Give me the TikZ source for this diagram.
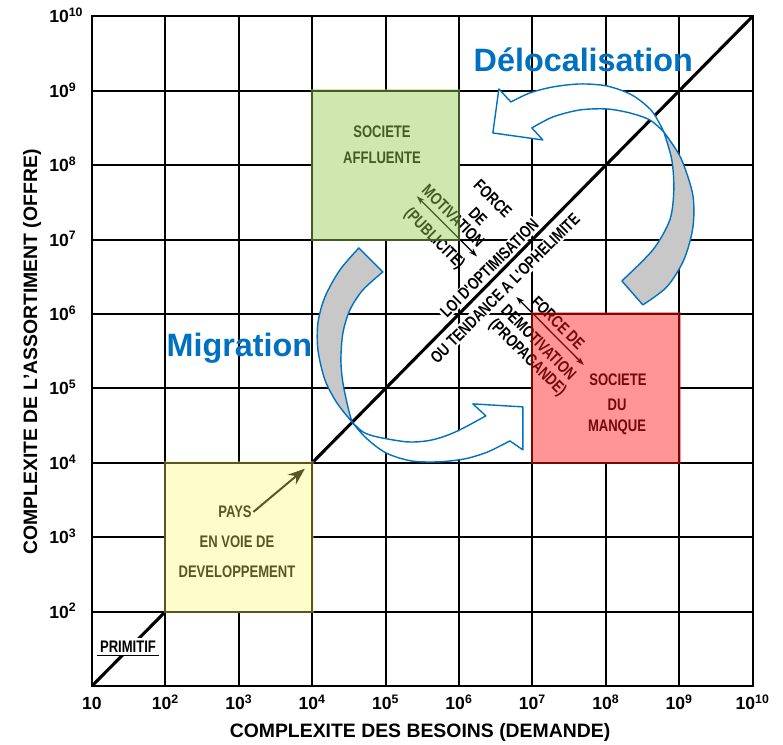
\documentclass[tikz,border=0pt]{standalone}
\usepackage{fontspec}
\setmainfont{Liberation Sans}
\newfontfamily\condfont[FakeStretch=0.78]{Liberation Sans}
\usepackage{xcolor}
\usetikzlibrary{arrows.meta}

\definecolor{pptblue}{RGB}{0,112,192}
\definecolor{arrowgray}{RGB}{200,200,200}
\definecolor{tintyellow}{RGB}{255,249,109}
\definecolor{tintgreen}{RGB}{148,206,82}
\definecolor{tintred}{RGB}{255,22,22}

\begin{document}
\begin{tikzpicture}[x=1.835cm, y=1.86cm,
  gridline/.style={line width=1.5pt, line cap=rect},
  boxtext/.style={font=\fontsize{11.9}{13}\condfont\bfseries, inner sep=1pt},
  forcetext/.style={boxtext, rotate=-45},
  diagtext/.style={boxtext, rotate=45, fill=white},
  forcearrow/.style={line width=0.9pt, {Stealth[length=6pt,width=4pt]}-{Stealth[length=6pt,width=4pt]}},
  bluearrow/.style={draw=pptblue, line width=1pt, line join=round},
  bluetext/.style={font=\fontsize{23}{27}\selectfont\bfseries, text=pptblue, inner sep=0pt},
  tick/.style={font=\fontsize{12.5}{14}\selectfont\bfseries, inner sep=0pt},
  axislabel/.style={font=\fontsize{13.8}{16}\selectfont\bfseries, inner sep=0pt}]
\useasboundingbox (-1.2534,-0.7930) rectangle (9.4142,9.2204);

% Grid (one decade per cell)
\foreach \k in {0,...,9} {
    \draw[gridline] (\k,0) -- (\k,9);
    \draw[gridline] (0,\k) -- (9,\k);
}

% Law along the diagonal
\node[diagtext] (loi) at (5.413,5.614) {LOI D'OPTIMISATION};
\node[diagtext] (ophel) at (5.627,5.345) {OU TENDANCE A L'OPHELIMITE};
\coordinate (origin) at (0,0);
\coordinate (far) at (9,9);
\draw[line width=2.2pt] (origin) -- (far);

% The three societies (white first, the grid inside goes away)
\foreach \x/\y in {1/1, 3/6, 6/3} {
    \fill[white] (\x,\y) rectangle ++(2,2);
    \draw[gridline] (\x,\y) rectangle ++(2,2);
}
\node[boxtext] (pays) at (1.948,2.339) {PAYS};
\node[boxtext] (envoie) at (1.975,1.935) {EN VOIE DE};
\node[boxtext] (devel) at (1.975,1.532) {DEVELOPPEMENT};
\coordinate (pvdcorner) at (2.90,2.92);
\draw[line width=1.4pt, -{Stealth[length=12pt,width=9pt]}] (pays.east) -- (pvdcorner);

\node[boxtext] (affl1) at (3.951,7.446) {SOCIETE};
\node[boxtext] (affl2) at (3.951,7.097) {AFFLUENTE};

\node[boxtext] (manq1) at (7.166,4.113) {SOCIETE};
\node[boxtext] (manq2) at (7.153,3.777) {DU};
\node[boxtext] (manq3) at (7.153,3.481) {MANQUE};

\node[boxtext, fill=white, inner sep=2pt] (prim) at (0.49,0.53) {PRIMITIF};
\draw[line width=1.2pt] (prim.south west) -- (prim.south east);

% Forces across the diagonal
\node[forcetext] (mot1) at (5.462,6.550) {FORCE};
\node[forcetext] (mot2) at (5.259,6.312) {DE};
\node[forcetext] (mot3) at (4.922,6.321) {MOTIVATION};
\node[forcetext] (mot4) at (4.662,6.008) {(PUBLICITE)};
\coordinate (motA) at (4.425,6.583);
\coordinate (motB) at (5.245,5.774);
\draw[forcearrow] (motA) -- (motB);

\node[forcetext] (dem1) at (6.35,4.88) {FORCE DE};
\node[forcetext] (dem2) at (6.09,4.62) {DEMOTIVATION};
\node[forcetext] (dem3) at (5.93,4.41) {(PROPAGANDE)};
\coordinate (demA) at (5.78,5.23);
\coordinate (demB) at (6.70,4.315);
\draw[forcearrow] (demA) -- (demB);

% Colour laid over the print
\fill[tintyellow, fill opacity=0.35] (0.98,0.98) rectangle (3.02,3.02);
\fill[tintgreen, fill opacity=0.45] (2.98,5.98) rectangle (5.02,8.02);
\fill[tintred, fill opacity=0.45] (5.98,2.98) rectangle (8.02,5.02);

% Curved arrows, in pixels
\begin{scope}[x=0.025cm, y=-0.025cm, shift={(-2.3cm,17.15cm)}]
    % Delocalisation
    \filldraw[bluearrow, fill=arrowgray] plot[smooth] coordinates {(664,132) (672,160) (674,190) (670,220) (653,250) (622,281)}
        -- (643,305)
        -- plot[smooth] coordinates {(643,305) (667,287) (684,260) (693,228) (693,195) (681,158) (664,132)} -- cycle;
    \filldraw[bluearrow, fill=white] (511,102) -- (499,89) -- (493,133) -- (543,140) -- (532,128)
        -- plot[smooth] coordinates {(532,128) (553,117) (580,110) (607,109) (630,113) (650,120) (664,132)}
        -- plot[smooth] coordinates {(664,132) (652,111) (632,95) (607,86) (580,84) (553,87) (530,93) (511,102)} -- cycle;
    \node[bluetext, anchor=base] (deloc) at (583.5,72) {Délocalisation};

    % Migration
    \filldraw[bluearrow, fill=arrowgray] plot[smooth] coordinates {(352,422) (337,403) (325,380) (318,350) (318,323) (325,297) (340,270) (359,248)}
        -- (383,272)
        -- plot[smooth] coordinates {(383,272) (363,290) (350,310) (343,333) (341,360) (343,383) (348,407) (352,422)} -- cycle;
    \filldraw[bluearrow, fill=white] (486,416) -- (473,404) -- (523,407) -- (523,450) -- (510,441)
        -- plot[smooth] coordinates {(510,441) (488,452) (465,459) (438,462) (411,461) (386,453) (366,438) (352,422)}
        -- plot[smooth] coordinates {(352,422) (363,432) (377,437) (407,442) (427,441) (443,437) (460,430) (486,416)} -- cycle;
    \node[bluetext, anchor=base] (migr) at (239.5,357) {Migration};
\end{scope}

% Axes
\foreach \k in {0,...,9} {
    \pgfmathtruncatemacro{\e}{\k+1}
    \ifnum\k=0
        \node[tick, anchor=base] (x\k) at (\k,-0.3226) {10};
    \else
        \node[tick, anchor=base] (x\k) at (\k,-0.3226) {10\textsuperscript{\e}};
    \fi
}
\foreach \k in {1,...,9} {
    \pgfmathtruncatemacro{\e}{\k+1}
    \node[tick, anchor=base west] (y\k) at (-0.586,\k-0.087) {10\textsuperscript{\e}};
}
\node[axislabel, anchor=base] (xlab) at (4.469,-0.699) {COMPLEXITE DES BESOINS (DEMANDE)};
\node[axislabel, anchor=base, rotate=90] (ylab) at (-0.749,4.489) {COMPLEXITE DE L'ASSORTIMENT (OFFRE)};
\end{tikzpicture}
\end{document}
